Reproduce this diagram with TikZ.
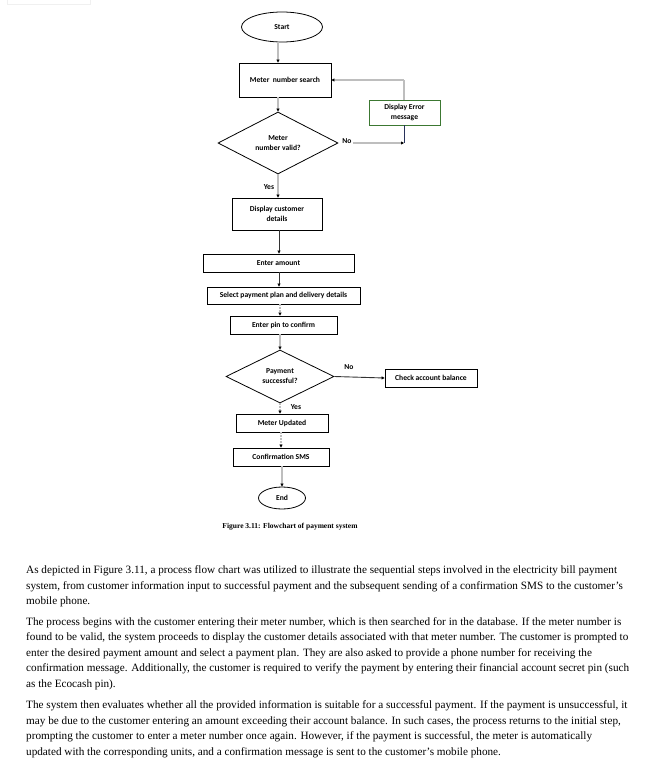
\documentclass[tikz,border=0pt]{standalone}
\usepackage{fontspec}
\setmainfont{Liberation Serif}
\newfontfamily\flowfont{Carlito}
\usetikzlibrary{shapes.geometric,arrows.meta}
\definecolor{errgreen}{RGB}{60,120,50}
\definecolor{lnkgray}{RGB}{190,190,190}
\definecolor{lnkblue}{RGB}{40,50,90}
\begin{document}
\begin{tikzpicture}[x=1pt,y=-1pt,
  ffont/.style={font=\flowfont\bfseries\fontsize{7.6}{10}\selectfont},
  box/.style={ffont,draw=black,line width=0.8pt,rectangle,inner sep=0pt,align=center},
  term/.style={ffont,draw=black,line width=0.8pt,ellipse,inner sep=0pt},
  decide/.style={ffont,draw=black,line width=0.8pt,diamond,inner sep=0pt,align=center},
  lbl/.style={ffont,inner sep=0pt},
  tip/.style={-{Triangle[length=3pt,width=3pt,color=black]}},
  glink/.style={draw=lnkgray,line width=1.1pt},
  dglink/.style={draw=lnkgray,line width=1.1pt,dash pattern=on 2pt off 1pt},
  dlink/.style={draw=black!80,line width=0.6pt},
  para/.style={font=\fontsize{11.2}{13}\selectfont,inner sep=0pt,anchor=base west},
  figcap/.style={font=\bfseries\fontsize{7.5}{9}\selectfont,inner sep=0pt}
]
\useasboundingbox (0,0) rectangle (670,760);
\fill[white] (0,0) rectangle (670,760);
% faint artifact top-left
\draw[black!6,line width=0.6pt] (7,-2) rectangle (90,4);

% nodes
\node[term,minimum width=81,minimum height=30] (start) at (282,27) {Start};
\node[box,minimum width=92,minimum height=34] (msearch) at (285,80) {Meter\ \ number search};
\node[box,draw=errgreen,minimum width=71,minimum height=25] (err) at (404.5,112.5) {Display Error\\message};
\node[decide,minimum width=120,minimum height=62] (valid) at (278,143) {Meter\\number valid?};
\node[box,minimum width=90,minimum height=32] (details) at (277,214) {Display customer\\details};
\node[box,minimum width=151,minimum height=18] (amount) at (278.5,263) {Enter amount};
\node[box,minimum width=153,minimum height=17] (plan) at (283.5,295.5) {Select payment plan and delivery details};
\node[box,minimum width=107,minimum height=18] (pin) at (283.5,325) {Enter pin to confirm};
\node[decide,minimum width=108,minimum height=53] (paid) at (280,376.5) {Payment\\successful?};
\node[box,minimum width=92,minimum height=18] (balance) at (431,378) {Check account balance};
\node[box,minimum width=92,minimum height=18] (updated) at (282,423) {Meter Updated};
\node[box,minimum width=96,minimum height=18] (sms) at (281,457) {Confirmation SMS};
\node[term,minimum width=47,minimum height=22] (end) at (282,498) {End};

% labels
\node[lbl] (no1) at (347,141) {No};
\node[lbl] (yes1) at (269,187) {Yes};
\node[lbl] (no2) at (349,367) {No};
\node[lbl] (yes2) at (296,407) {Yes};
\node[figcap] (caption) at (290,527) {Figure 3.11: Flowchart of payment system};

% helper coordinates
\coordinate (c1) at (404,143);
\coordinate (c2) at (404,80);
\coordinate (ax) at (278,0);
\coordinate (ax9) at (279,0);
\coordinate (ax0) at (280,0);
\coordinate (ax1) at (281,0);
\coordinate (ax2) at (282,0);

% connectors
\draw[glink,tip] (ax |- start.south) -- (ax |- msearch.north);
\draw[glink,tip] (ax |- msearch.south) -- (valid.north);
\draw[glink,tip] (valid.south) -- (valid.south |- details.north);
\draw[dlink,tip] (ax9 |- details.south) -- (ax9 |- amount.north);
\draw[dlink,tip] (ax9 |- amount.south) -- (ax9 |- plan.north);
\draw[dglink,tip] (ax0 |- plan.south) -- (ax0 |- pin.north);
\draw[glink,tip] (ax0 |- pin.south) -- (paid.north);
\draw[dglink,tip] (paid.south) -- (paid.south |- updated.north);
\draw[dglink,tip] (ax1 |- updated.south) -- (ax1 |- sms.north);
\draw[glink,tip] (ax2 |- sms.south) -- (end.north);
\draw[dlink,line width=0.9pt,tip] (paid.east) -- (balance.west);
\draw[glink,tip] ([xshift=1pt]no1.east |- c1) -- (c1);
\draw[draw=lnkblue,line width=0.9pt] (c1 |- err.south) -- (c1);
\draw[glink] (c2 |- err.north) -- (c2);
\draw[glink,tip] (c2) -- (msearch.east);

% paragraphs
\node[para] (p1a) at (26,573.5) {As depicted in Figure 3.11, a process flow chart was utilized to illustrate the sequential steps involved in the electricity bill payment};
\node[para] (p1b) at (26,589) {system, from customer information input to successful payment and the subsequent sending of a confirmation SMS to the customer's};
\node[para] (p1c) at (26,604.5) {mobile phone.};
\node[para] (p2a) at (26,625) {The process begins with the customer entering their meter number, which is then searched for in the database. If the meter number is};
\node[para] (p2b) at (26,640.5) {found to be valid, the system proceeds to display the customer details associated with that meter number. The customer is prompted to};
\node[para] (p2c) at (26,656) {enter the desired payment amount and select a payment plan. They are also asked to provide a phone number for receiving the};
\node[para] (p2d) at (26,671.5) {confirmation message. Additionally, the customer is required to verify the payment by entering their financial account secret pin (such};
\node[para] (p2e) at (26,687) {as the Ecocash pin).};
\node[para] (p3a) at (26,708.5) {The system then evaluates whether all the provided information is suitable for a successful payment. If the payment is unsuccessful, it};
\node[para] (p3b) at (26,724) {may be due to the customer entering an amount exceeding their account balance. In such cases, the process returns to the initial step,};
\node[para] (p3c) at (26,739.5) {prompting the customer to enter a meter number once again. However, if the payment is successful, the meter is automatically};
\node[para] (p3d) at (26,755) {updated with the corresponding units, and a confirmation message is sent to the customer's mobile phone.};
\end{tikzpicture}
\end{document}
